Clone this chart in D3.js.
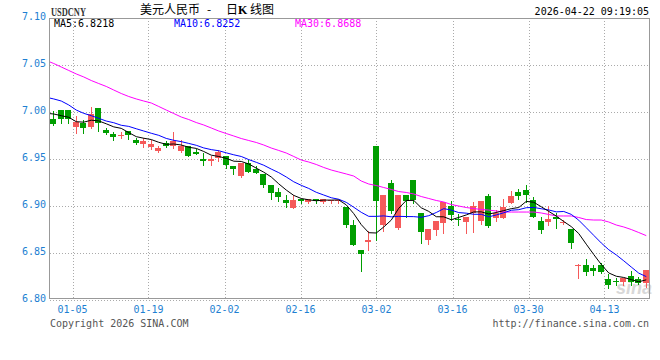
<!DOCTYPE html>
<html>
<head>
<meta charset="utf-8">
<title>USDCNY 日K线图</title>
<script src="https://d3js.org/d3.v7.min.js"></script>
<style>
  body { margin: 0; background: #fff; }
  svg { display: block; }
  .mono { font-family: "DejaVu Sans Mono", monospace; font-size: 10px; }
</style>
</head>
<body>
<div id="chart"></div>
<script>
// x axis: date labels and where they fall, in bar slots from the left edge
const dateLabels = ["01-05", "01-19", "02-02", "02-16", "03-02", "03-16", "03-30", "04-13"];
const labelSlot = [3.0, 13.13, 23.27, 33.4, 43.53, 53.67, 63.8, 73.93];
const priceTicks = [7.10, 7.05, 7.00, 6.95, 6.90, 6.85, 6.80];

// daily candles, oldest first
const open = [6.9932, 7.0024, 7.0024, 6.9847, 6.9889, 6.9847, 7.0046, 6.9812, 6.9772, 6.9748,
  6.9804, 6.9705, 6.9663, 6.9634, 6.9591, 6.9677, 6.9641, 6.9591, 6.9645, 6.9574,
  6.9500, 6.9482, 6.9519, 6.9535, 6.9429, 6.9327, 6.9464, 6.9400, 6.9343, 6.9226,
  6.9149, 6.9068, 6.8981, 6.9074, 6.9046, 6.9074, 6.9046, 6.9053, 6.9056, 6.8997,
  6.8801, 6.8535, 6.8620, 6.9641, 6.8806, 6.9251, 6.8774, 6.9125, 6.9285, 6.8925,
  6.8641, 6.8748, 6.8819, 6.9006, 6.8862, 6.8836, 6.8932, 6.8847, 6.9109, 6.8875,
  6.8879, 6.9038, 6.9149, 6.9173, 6.9067, 6.8843, 6.8830, 6.8889, 6.8825, 6.8758,
  6.8365, 6.8375, 6.8340, 6.8375, 6.8226, 6.8208, 6.8191, 6.8258, 6.8223, 6.8181];
const high = [7.0010, 7.0024, 7.0024, 6.9961, 6.9918, 7.0060, 7.0046, 6.9836, 6.9787, 6.9794,
  6.9804, 6.9723, 6.9723, 6.9705, 6.9645, 6.9695, 6.9790, 6.9705, 6.9645, 6.9606,
  6.9567, 6.9538, 6.9599, 6.9535, 6.9434, 6.9464, 6.9492, 6.9432, 6.9343, 6.9226,
  6.9191, 6.9121, 6.9118, 6.9074, 6.9074, 6.9074, 6.9074, 6.9070, 6.9070, 6.8997,
  6.8854, 6.8535, 6.8737, 6.9641, 6.9125, 6.9280, 6.9125, 6.9125, 6.9285, 6.8925,
  6.8758, 6.8844, 6.9049, 6.9056, 6.8918, 6.8889, 6.9042, 6.9056, 6.9131, 6.8960,
  6.9078, 6.9163, 6.9184, 6.9226, 6.9102, 6.8889, 6.9003, 6.8925, 6.8854, 6.8758,
  6.8386, 6.8439, 6.8375, 6.8397, 6.8279, 6.8240, 6.8240, 6.8311, 6.8251, 6.8322];
const low = [6.9865, 6.9886, 6.9883, 6.9777, 6.9783, 6.9833, 6.9796, 6.9766, 6.9705, 6.9723,
  6.9713, 6.9660, 6.9631, 6.9610, 6.9574, 6.9631, 6.9617, 6.9580, 6.9538, 6.9553,
  6.9439, 6.9439, 6.9485, 6.9404, 6.9343, 6.9311, 6.9368, 6.9357, 6.9208, 6.9078,
  6.9056, 6.8989, 6.8981, 6.9038, 6.9038, 6.9038, 6.9032, 6.9032, 6.9032, 6.8776,
  6.8588, 6.8315, 6.8531, 6.8641, 6.8742, 6.8925, 6.8763, 6.8889, 6.9038, 6.8612,
  6.8599, 6.8695, 6.8719, 6.8854, 6.8801, 6.8713, 6.8729, 6.8812, 6.8776, 6.8843,
  6.8879, 6.9038, 6.9078, 6.9042, 6.8883, 6.8713, 6.8801, 6.8766, 6.8812, 6.8553,
  6.8234, 6.8269, 6.8269, 6.8295, 6.8134, 6.8162, 6.8162, 6.8162, 6.8170, 6.8141];
const close = [6.9876, 6.9932, 6.9932, 6.9900, 6.9836, 6.9982, 6.9889, 6.9783, 6.9734, 6.9758,
  6.9755, 6.9677, 6.9698, 6.9660, 6.9617, 6.9645, 6.9695, 6.9645, 6.9538, 6.9556,
  6.9479, 6.9500, 6.9578, 6.9439, 6.9402, 6.9464, 6.9368, 6.9357, 6.9226, 6.9144,
  6.9102, 6.9038, 6.9070, 6.9059, 6.9074, 6.9053, 6.9074, 6.9070, 6.9070, 6.8806,
  6.8588, 6.8492, 6.8641, 6.9056, 6.9125, 6.8950, 6.9125, 6.9054, 6.9062, 6.8729,
  6.8758, 6.8844, 6.9049, 6.8907, 6.8851, 6.8889, 6.9003, 6.9056, 6.8793, 6.8929,
  6.8989, 6.9109, 6.9113, 6.9120, 6.8883, 6.8748, 6.8865, 6.8862, 6.8833, 6.8613,
  6.8375, 6.8304, 6.8311, 6.8304, 6.8162, 6.8198, 6.8240, 6.8198, 6.8187, 6.8322];

// moving averages; the first value belongs to the bar just left of the chart
const ma5 = [6.9989, 6.9982, 6.9964, 6.9947, 6.9900, 6.9895, 6.9916, 6.9908, 6.9878, 6.9845, 6.9829,
  6.9784, 6.9741, 6.9724, 6.9710, 6.9681, 6.9659, 6.9663, 6.9652, 6.9628, 6.9616,
  6.9583, 6.9544, 6.9530, 6.9510, 6.9480, 6.9477, 6.9450, 6.9406, 6.9363, 6.9312,
  6.9239, 6.9173, 6.9116, 6.9083, 6.9069, 6.9059, 6.9066, 6.9066, 6.9068, 6.9015,
  6.8922, 6.8805, 6.8719, 6.8716, 6.8780, 6.8853, 6.8979, 6.9062, 6.9063, 6.8984,
  6.8946, 6.8889, 6.8888, 6.8857, 6.8882, 6.8908, 6.8940, 6.8941, 6.8918, 6.8934,
  6.8954, 6.8975, 6.8987, 6.9052, 6.9043, 6.8995, 6.8946, 6.8896, 6.8838, 6.8784,
  6.8710, 6.8597, 6.8487, 6.8381, 6.8291, 6.8256, 6.8243, 6.8220, 6.8197, 6.8218];
const ma10 = [7.0160, 7.0142, 7.0120, 7.0078, 7.0024, 6.9989, 6.9964, 6.9936, 6.9907, 6.9889, 6.9862,
  6.9850, 6.9825, 6.9801, 6.9777, 6.9755, 6.9722, 6.9702, 6.9688, 6.9669, 6.9649,
  6.9621, 6.9603, 6.9591, 6.9569, 6.9548, 6.9530, 6.9497, 6.9468, 6.9437, 6.9396,
  6.9358, 6.9312, 6.9261, 6.9223, 6.9190, 6.9149, 6.9120, 6.9091, 6.9075, 6.9042,
  6.8990, 6.8936, 6.8893, 6.8893, 6.8898, 6.8888, 6.8893, 6.8891, 6.8890, 6.8883,
  6.8900, 6.8934, 6.8975, 6.8960, 6.8933, 6.8927, 6.8915, 6.8915, 6.8888, 6.8908,
  6.8931, 6.8958, 6.8964, 6.8985, 6.8988, 6.8974, 6.8961, 6.8941, 6.8945, 6.8914,
  6.8852, 6.8772, 6.8691, 6.8610, 6.8538, 6.8483, 6.8420, 6.8354, 6.8289, 6.8252];
const ma30 = [7.0551, 7.0519, 7.0482, 7.0445, 7.0408, 7.0376, 7.0338, 7.0306, 7.0275, 7.0237, 7.0200,
  7.0168, 7.0142, 7.0120, 7.0099, 7.0062, 7.0024, 6.9987, 6.9950, 6.9923, 6.9891,
  6.9865, 6.9833, 6.9801, 6.9774, 6.9748, 6.9721, 6.9700, 6.9679, 6.9652, 6.9620,
  6.9594, 6.9567, 6.9530, 6.9492, 6.9471, 6.9445, 6.9413, 6.9386, 6.9365, 6.9344,
  6.9322, 6.9269, 6.9237, 6.9221, 6.9200, 6.9179, 6.9157, 6.9147, 6.9131, 6.9104,
  6.9083, 6.9062, 6.9046, 6.9019, 6.9003, 6.8987, 6.8976, 6.8966, 6.8960, 6.8950,
  6.8939, 6.8939, 6.8939, 6.8939, 6.8939, 6.8929, 6.8913, 6.8897, 6.8897, 6.8897,
  6.8881, 6.8859, 6.8854, 6.8854, 6.8833, 6.8801, 6.8780, 6.8753, 6.8721, 6.8688];

const width = 660, height = 360;
const plotLeft = 50, plotRight = 650, plotTop = 18, plotBottom = 298;
const upColor = "#f55a5a", downColor = "#009e00", axisBlue = "#1e7fd2";

const svg = d3.select("#chart").append("svg")
  .attr("width", width)
  .attr("height", height);

// x works in bar slots, y in price
const x = d3.scaleLinear().domain([0, close.length]).range([plotLeft, plotRight]);
const y = d3.scaleLinear().domain([6.80, 7.10]).range([300.3, 18.3]);

// grid
const grid = svg.append("g")
  .attr("stroke", "#aaa")
  .attr("stroke-dasharray", "1,2")
  .attr("shape-rendering", "crispEdges");

grid.selectAll("line.h")
  .data(priceTicks.slice(1))
  .join("line")
  .attr("class", "h")
  .attr("x1", plotLeft).attr("x2", plotRight)
  .attr("y1", d => Math.round(y(d)) + 0.5)
  .attr("y2", d => Math.round(y(d)) + 0.5);

grid.selectAll("line.v")
  .data(labelSlot)
  .join("line")
  .attr("class", "v")
  .attr("x1", d => Math.round(x(d)) + 0.5)
  .attr("x2", d => Math.round(x(d)) + 0.5)
  .attr("y1", plotTop).attr("y2", plotBottom);

// watermark
svg.append("text")
  .attr("x", 616).attr("y", 294)
  .attr("font-family", "Liberation Sans, Arial, sans-serif")
  .attr("font-size", 18)
  .attr("font-weight", "bold")
  .attr("font-style", "italic")
  .attr("fill", "#d8d8d8")
  .text("sina");

// candles
const bars = d3.range(close.length).map(i => ({
  i, o: open[i], h: high[i], l: low[i], c: close[i]
}));

const candle = svg.append("g")
  .attr("shape-rendering", "crispEdges")
  .selectAll("g")
  .data(bars)
  .join("g")
  .attr("fill", d => d.c >= d.o ? upColor : downColor)
  .attr("stroke", d => d.c >= d.o ? upColor : downColor);

candle.append("line")
  .attr("x1", d => Math.floor(x(d.i + 0.5) - 3) + 3.5)
  .attr("x2", d => Math.floor(x(d.i + 0.5) - 3) + 3.5)
  .attr("y1", d => Math.round(y(d.h)))
  .attr("y2", d => Math.round(y(d.l)) + 1);

candle.append("rect")
  .attr("stroke", "none")
  .attr("x", d => Math.floor(x(d.i + 0.5) - 3))
  .attr("width", 6)
  .attr("y", d => Math.round(y(Math.max(d.o, d.c))))
  .attr("height", d => Math.max(1, Math.round(y(Math.min(d.o, d.c))) - Math.round(y(Math.max(d.o, d.c)))));

// moving average lines, clipped to the plot
svg.append("clipPath").attr("id", "plot")
  .append("rect")
  .attr("x", plotLeft).attr("y", plotTop)
  .attr("width", plotRight - plotLeft).attr("height", plotBottom - plotTop);

const line = d3.line()
  .x((d, i) => x(i - 0.5))
  .y(d => y(d));

[[ma30, "#ff00ff"], [ma10, "#0000ff"], [ma5, "#000000"]].forEach(([values, color]) => {
  svg.append("path")
    .attr("clip-path", "url(#plot)")
    .attr("d", line(values))
    .attr("fill", "none")
    .attr("stroke", color)
    .attr("stroke-width", 1);
});

// frame
svg.append("rect")
  .attr("x", plotLeft - 0.5).attr("y", plotTop + 0.5)
  .attr("width", plotRight - plotLeft).attr("height", plotBottom - plotTop - 0.5)
  .attr("fill", "none")
  .attr("stroke", "#999")
  .attr("shape-rendering", "crispEdges");

svg.append("line")
  .attr("x1", plotLeft).attr("x2", plotRight)
  .attr("y1", 300.5).attr("y2", 300.5)
  .attr("stroke", "#aaa")
  .attr("stroke-dasharray", "1,2")
  .attr("shape-rendering", "crispEdges");

// axis labels
svg.append("g").attr("class", "mono")
  .selectAll("text")
  .data(priceTicks)
  .join("text")
  .attr("x", 46)
  .attr("y", d => y(d) + 1.5)
  .attr("text-anchor", "end")
  .attr("fill", axisBlue)
  .text(d => d.toFixed(2));

svg.append("g").attr("class", "mono")
  .selectAll("text")
  .data(dateLabels)
  .join("text")
  .attr("x", (d, i) => x(labelSlot[i]))
  .attr("y", 312.5)
  .attr("text-anchor", "middle")
  .attr("fill", axisBlue)
  .text(d => d);

// header
svg.append("text")
  .attr("x", 51).attr("y", 16)
  .attr("font-family", "Liberation Serif, serif")
  .attr("font-size", 12)
  .attr("font-weight", "bold")
  .attr("fill", "#333")
  .attr("textLength", 35)
  .attr("lengthAdjust", "spacingAndGlyphs")
  .text("USDCNY");

const title = svg.append("text")
  .attr("y", 14)
  .attr("font-family", "Noto Sans CJK SC, sans-serif")
  .attr("font-size", 12)
  .attr("fill", "#000");
title.append("tspan").attr("x", 140).text("美元人民币");
title.append("tspan").attr("x", 207).text("-");
title.append("tspan").attr("x", 226).text("日");
title.append("tspan").attr("x", 238).attr("font-weight", "bold").attr("font-family", "Liberation Serif, serif").text("K");
title.append("tspan").attr("x", 250).text("线图");

svg.append("text").attr("class", "mono")
  .attr("x", 649).attr("y", 15)
  .attr("text-anchor", "end")
  .attr("fill", "#000")
  .text("2026-04-22 09:19:05");

const legend = [
  ["MA5:" + ma5[ma5.length - 1].toFixed(4), "#000000", 54],
  ["MA10:" + ma10[ma10.length - 1].toFixed(4), "#0000ff", 174],
  ["MA30:" + ma30[ma30.length - 1].toFixed(4), "#ff00ff", 295]
];
svg.append("g").attr("class", "mono")
  .selectAll("text")
  .data(legend)
  .join("text")
  .attr("x", d => d[2])
  .attr("y", 27)
  .attr("fill", d => d[1])
  .text(d => d[0]);

// footer
svg.append("text").attr("class", "mono")
  .attr("x", 50).attr("y", 327)
  .attr("fill", "#555")
  .text("Copyright 2026 SINA.COM");

svg.append("text").attr("class", "mono")
  .attr("x", 649).attr("y", 327)
  .attr("text-anchor", "end")
  .attr("fill", "#555")
  .text("http://finance.sina.com.cn");
</script>
</body>
</html>
